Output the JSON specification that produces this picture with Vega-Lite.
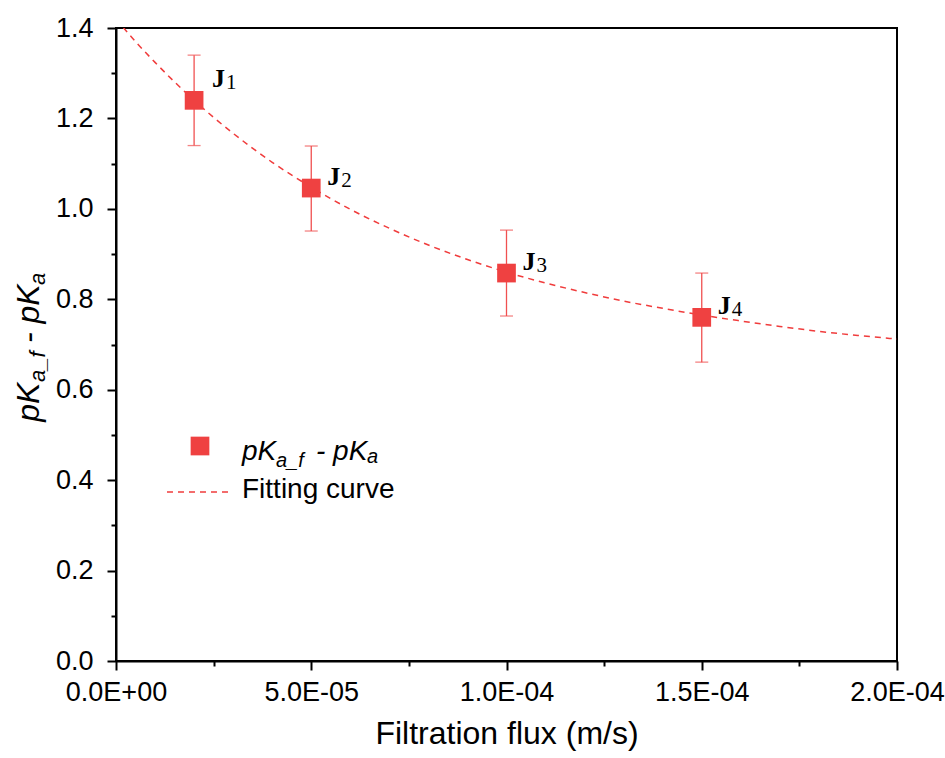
{
  "$schema": "https://vega.github.io/schema/vega-lite/v6.json",
  "width": 781,
  "height": 633,
  "autosize": {"type": "none"},
  "padding": {"left": 116, "top": 28, "right": 48, "bottom": 97},
  "background": "white",
  "config": {
    "view": {"stroke": "black", "strokeWidth": 2},
    "axis": {
      "labelFont": "Liberation Sans",
      "titleFont": "Liberation Sans",
      "labelColor": "black",
      "titleColor": "black",
      "domainColor": "black",
      "tickColor": "black",
      "domainWidth": 2,
      "tickWidth": 2,
      "titleFontWeight": "normal",
      "grid": false,
      "labelFontSize": 27,
      "titleFontSize": 32
    }
  },
  "datasets": {
    "curve": [
      {"x": 0, "y": 1.42},
      {"x": 0.000005, "y": 1.370},
      {"x": 0.00001, "y": 1.324},
      {"x": 0.00002, "y": 1.240},
      {"x": 0.00003, "y": 1.167},
      {"x": 0.00004, "y": 1.103},
      {"x": 0.00005, "y": 1.048},
      {"x": 0.00006, "y": 0.999},
      {"x": 0.00007, "y": 0.957},
      {"x": 0.00008, "y": 0.920},
      {"x": 0.00009, "y": 0.888},
      {"x": 0.0001, "y": 0.860},
      {"x": 0.00011, "y": 0.836},
      {"x": 0.00012, "y": 0.815},
      {"x": 0.00013, "y": 0.796},
      {"x": 0.00014, "y": 0.780},
      {"x": 0.00015, "y": 0.765},
      {"x": 0.00016, "y": 0.752},
      {"x": 0.00017, "y": 0.740},
      {"x": 0.00018, "y": 0.729},
      {"x": 0.00019, "y": 0.720},
      {"x": 0.0002, "y": 0.712}
    ],
    "pts": [
      {"n": "1", "x": 0.00002, "y": 1.24, "lo": 1.14, "hi": 1.34},
      {"n": "2", "x": 0.00005, "y": 1.046, "lo": 0.951, "hi": 1.139},
      {"n": "3", "x": 0.0001, "y": 0.858, "lo": 0.763, "hi": 0.953},
      {"n": "4", "x": 0.00015, "y": 0.76, "lo": 0.661, "hi": 0.858}
    ]
  },
  "resolve": {"axis": {"x": "independent", "y": "independent"}},
  "layer": [
    {
      "data": {"name": "curve"},
      "mark": {"type": "line", "color": "#f03c3c", "strokeWidth": 1.5, "strokeDash": [6, 5], "clip": true, "interpolate": "monotone"},
      "encoding": {
        "x": {
          "field": "x", "type": "quantitative",
          "scale": {"domain": [0, 0.0002], "nice": false, "zero": false},
          "axis": {
            "orient": "bottom",
            "values": [0, 0.00005, 0.0001, 0.00015, 0.0002],
            "labelExpr": "['0.0E+00','5.0E-05','1.0E-04','1.5E-04','2.0E-04'][round(datum.value*20000)]",
            "title": "Filtration flux (m/s)",
            "tickSize": 9,
            "labelPadding": 9,
            "titlePadding": 13,
            "labelFlush": false,
            "labelOverlap": false
          }
        },
        "y": {
          "field": "y", "type": "quantitative",
          "scale": {"domain": [0, 1.4], "nice": false},
          "axis": {
            "orient": "left",
            "values": [0, 0.2, 0.4, 0.6, 0.8, 1.0, 1.2, 1.4],
            "format": ".1f",
            "title": null,
            "tickSize": 9,
            "labelPadding": 14,
            "labelFlush": false,
            "labelOverlap": false
          }
        }
      }
    },
    {
      "data": {"name": "pts"},
      "mark": {"type": "rule", "color": "#f05050", "strokeWidth": 1.3},
      "encoding": {
        "x": {
          "field": "x", "type": "quantitative",
          "scale": {"domain": [0, 0.0002], "nice": false, "zero": false},
          "axis": {"orient": "bottom", "values": [0.000025, 0.000075, 0.000125, 0.000175], "labels": false, "tickSize": 5, "domain": false, "title": null}
        },
        "y": {
          "field": "lo", "type": "quantitative",
          "scale": {"domain": [0, 1.4], "nice": false},
          "axis": {"orient": "left", "values": [0.1, 0.3, 0.5, 0.7, 0.9, 1.1, 1.3], "labels": false, "tickSize": 5, "domain": false, "title": null}
        },
        "y2": {"field": "hi"}
      }
    },
    {
      "data": {"name": "pts"},
      "mark": {"type": "tick", "orient": "horizontal", "color": "#f05050", "size": 13, "thickness": 1.3},
      "encoding": {
        "x": {"field": "x", "type": "quantitative", "axis": null},
        "y": {"field": "hi", "type": "quantitative", "axis": null}
      }
    },
    {
      "data": {"name": "pts"},
      "mark": {"type": "tick", "orient": "horizontal", "color": "#f05050", "size": 13, "thickness": 1.3},
      "encoding": {
        "x": {"field": "x", "type": "quantitative", "axis": null},
        "y": {"field": "lo", "type": "quantitative", "axis": null}
      }
    },
    {
      "data": {"name": "pts"},
      "mark": {"type": "point", "shape": "square", "filled": true, "size": 350, "color": "#ef4141", "opacity": 1},
      "encoding": {
        "x": {"field": "x", "type": "quantitative", "axis": null},
        "y": {"field": "y", "type": "quantitative", "axis": null}
      }
    },
    {
      "data": {"name": "pts"},
      "transform": [{"filter": "datum.n == '1'"}],
      "mark": {"type": "text", "text": "J", "font": "Liberation Serif", "fontWeight": "bold", "fontSize": 26, "align": "left", "baseline": "alphabetic", "dx": 18, "dy": -13, "color": "black"},
      "encoding": {
        "x": {"field": "x", "type": "quantitative", "axis": null},
        "y": {"field": "y", "type": "quantitative", "axis": null}
      }
    },
    {
      "data": {"name": "pts"},
      "transform": [{"filter": "datum.n == '1'"}],
      "mark": {"type": "text", "font": "Liberation Serif", "fontSize": 21, "align": "left", "baseline": "alphabetic", "dx": 32, "dy": -11, "color": "black"},
      "encoding": {
        "x": {"field": "x", "type": "quantitative", "axis": null},
        "y": {"field": "y", "type": "quantitative", "axis": null},
        "text": {"field": "n"}
      }
    },
    {
      "data": {"name": "pts"},
      "transform": [{"filter": "datum.n != '1'"}],
      "mark": {"type": "text", "text": "J", "font": "Liberation Serif", "fontWeight": "bold", "fontSize": 26, "align": "left", "baseline": "alphabetic", "dx": 16, "dy": -3, "color": "black"},
      "encoding": {
        "x": {"field": "x", "type": "quantitative", "axis": null},
        "y": {"field": "y", "type": "quantitative", "axis": null}
      }
    },
    {
      "data": {"name": "pts"},
      "transform": [{"filter": "datum.n != '1'"}],
      "mark": {"type": "text", "font": "Liberation Serif", "fontSize": 21, "align": "left", "baseline": "alphabetic", "dx": 30, "dy": -1, "color": "black"},
      "encoding": {
        "x": {"field": "x", "type": "quantitative", "axis": null},
        "y": {"field": "y", "type": "quantitative", "axis": null},
        "text": {"field": "n"}
      }
    },
    {
      "data": {"values": [{}]},
      "mark": {"type": "point", "shape": "square", "filled": true, "size": 350, "color": "#ef4141", "opacity": 1},
      "encoding": {
        "x": {"datum": 0.00002151, "type": "quantitative", "axis": null},
        "y": {"datum": 0.4755, "type": "quantitative", "axis": null}
      }
    },
    {
      "data": {"values": [{}]},
      "mark": {"type": "rule", "color": "#f03c3c", "strokeWidth": 1.5, "strokeDash": [6, 5]},
      "encoding": {
        "x": {"datum": 0.00001306, "type": "quantitative", "axis": null},
        "x2": {"datum": 0.0000297},
        "y": {"datum": 0.3738, "type": "quantitative", "axis": null}
      }
    },
    {
      "data": {"values": [{}]},
      "mark": {"type": "text", "text": "pK", "font": "Liberation Sans", "fontStyle": "italic", "fontSize": 28, "align": "left", "baseline": "alphabetic", "color": "black"},
      "encoding": {
        "x": {"datum": 0.00003227, "type": "quantitative", "axis": null},
        "y": {"datum": 0.4446, "type": "quantitative", "axis": null}
      }
    },
    {
      "data": {"values": [{}]},
      "mark": {"type": "text", "text": "a_f", "font": "Liberation Sans", "fontStyle": "italic", "fontSize": 20, "align": "left", "baseline": "alphabetic", "color": "black"},
      "encoding": {
        "x": {"datum": 0.00004097, "type": "quantitative", "axis": null},
        "y": {"datum": 0.4291, "type": "quantitative", "axis": null}
      }
    },
    {
      "data": {"values": [{}]},
      "mark": {"type": "text", "text": "- pK", "font": "Liberation Sans", "fontStyle": "italic", "fontSize": 28, "align": "left", "baseline": "alphabetic", "color": "black"},
      "encoding": {
        "x": {"datum": 0.00005122, "type": "quantitative", "axis": null},
        "y": {"datum": 0.4446, "type": "quantitative", "axis": null}
      }
    },
    {
      "data": {"values": [{}]},
      "mark": {"type": "text", "text": "a", "font": "Liberation Sans", "fontStyle": "italic", "fontSize": 20, "align": "left", "baseline": "alphabetic", "color": "black"},
      "encoding": {
        "x": {"datum": 0.00006428, "type": "quantitative", "axis": null},
        "y": {"datum": 0.4379, "type": "quantitative", "axis": null}
      }
    },
    {
      "data": {"values": [{}]},
      "mark": {"type": "text", "text": "Fitting curve", "font": "Liberation Sans", "fontSize": 28, "align": "left", "baseline": "alphabetic", "color": "black"},
      "encoding": {
        "x": {"datum": 0.00003227, "type": "quantitative", "axis": null},
        "y": {"datum": 0.3605, "type": "quantitative", "axis": null}
      }
    },
    {
      "data": {"values": [{}]},
      "mark": {"type": "text", "text": "pK", "angle": 270, "font": "Liberation Sans", "fontStyle": "italic", "fontSize": 32, "align": "left", "baseline": "alphabetic", "color": "black"},
      "encoding": {
        "x": {"datum": -0.00001972, "type": "quantitative", "axis": null},
        "y": {"datum": 0.5293, "type": "quantitative", "axis": null}
      }
    },
    {
      "data": {"values": [{}]},
      "mark": {"type": "text", "text": "a_f", "angle": 270, "font": "Liberation Sans", "fontStyle": "italic", "fontSize": 22, "align": "left", "baseline": "alphabetic", "color": "black"},
      "encoding": {
        "x": {"datum": -0.00001818, "type": "quantitative", "axis": null},
        "y": {"datum": 0.6171, "type": "quantitative", "axis": null}
      }
    },
    {
      "data": {"values": [{}]},
      "mark": {"type": "text", "text": "- pK", "angle": 270, "font": "Liberation Sans", "fontStyle": "italic", "fontSize": 32, "align": "left", "baseline": "alphabetic", "color": "black"},
      "encoding": {
        "x": {"datum": -0.00001972, "type": "quantitative", "axis": null},
        "y": {"datum": 0.7033, "type": "quantitative", "axis": null}
      }
    },
    {
      "data": {"values": [{}]},
      "mark": {"type": "text", "text": "a", "angle": 270, "font": "Liberation Sans", "fontStyle": "italic", "fontSize": 22, "align": "left", "baseline": "alphabetic", "color": "black"},
      "encoding": {
        "x": {"datum": -0.00001818, "type": "quantitative", "axis": null},
        "y": {"datum": 0.8316, "type": "quantitative", "axis": null}
      }
    }
  ]
}
